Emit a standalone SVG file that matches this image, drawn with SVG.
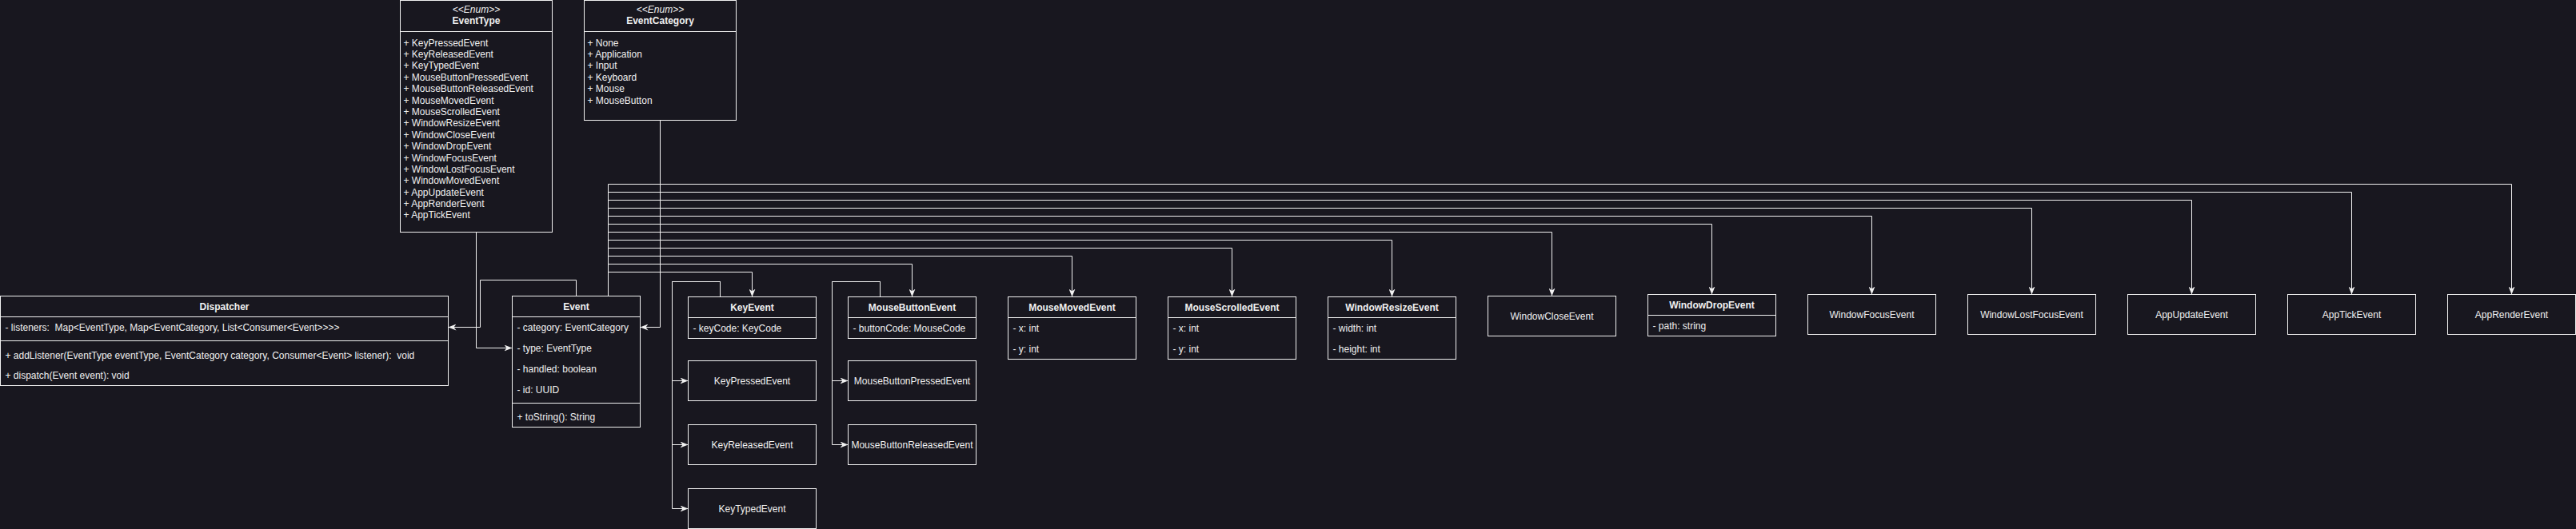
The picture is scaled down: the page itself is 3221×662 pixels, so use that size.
<svg xmlns="http://www.w3.org/2000/svg" width="3221" height="662" viewBox="0 0 3221 662">
<style>
.bg{fill:#18171f}
.box{fill:#18171f;stroke:#f0f0f0;stroke-width:1}
.ln{stroke:#f0f0f0;stroke-width:1}
.t{font-family:"Liberation Sans",Arial,Helvetica,sans-serif;font-size:12px;fill:#f0f0f0}
.b{font-weight:bold}
.i{font-style:italic}
.c{text-anchor:middle}
.e{fill:none;stroke:#f0f0f0;stroke-width:1;marker-end:url(#arr)}
</style>
<defs>
<marker id="arr" viewBox="0 0 10 8" refX="10" refY="4" markerWidth="10" markerHeight="8" markerUnits="userSpaceOnUse" orient="auto">
<path d="M0,0 L10,4 L0,8 L3,4 Z" fill="#f0f0f0"/>
</marker>
</defs>
<rect class="bg" x="0" y="0" width="3221" height="662"/>
<g transform="translate(0.5,0.5)">
<g id="connectors">
<path class="e" d="M595,290 V435 H640"/>
<path class="e" d="M825,150 V409 H800"/>
<path class="e" d="M720,370 V350 H600 V409 H560"/>
<path class="e" d="M760,370 V340 H940 V371"/>
<path class="e" d="M760,370 V330 H1140 V371"/>
<path class="e" d="M760,370 V320 H1340 V371"/>
<path class="e" d="M760,370 V310 H1540 V371"/>
<path class="e" d="M760,370 V300 H1740 V371"/>
<path class="e" d="M760,370 V290 H1940 V370"/>
<path class="e" d="M760,370 V280 H2140 V368"/>
<path class="e" d="M760,370 V270 H2340 V368"/>
<path class="e" d="M760,370 V260 H2540 V368"/>
<path class="e" d="M760,370 V250 H2740 V368"/>
<path class="e" d="M760,370 V240 H2940 V368"/>
<path class="e" d="M760,370 V230 H3140 V368"/>
<path class="e" d="M900,371 V352 H840 V476 H860"/>
<path class="e" d="M900,371 V352 H840 V556 H860"/>
<path class="e" d="M900,371 V352 H840 V636 H860"/>
<path class="e" d="M1100,371 V352 H1040 V476 H1060"/>
<path class="e" d="M1100,371 V352 H1040 V556 H1060"/>
</g>
<g id="EventType">
<rect class="box" x="500" y="0" width="190" height="290"/>
<line class="ln" x1="500" y1="39" x2="690" y2="39"/>
<text class="t i c" x="595" y="15">&lt;&lt;Enum&gt;&gt;</text>
<text class="t b c" x="595" y="29">EventType</text>
<text class="t" x="504" y="57">
<tspan x="504" dy="0">+ KeyPressedEvent</tspan>
<tspan x="504" dy="14.4">+ KeyReleasedEvent</tspan>
<tspan x="504" dy="14.4">+ KeyTypedEvent</tspan>
<tspan x="504" dy="14.4">+ MouseButtonPressedEvent</tspan>
<tspan x="504" dy="14.4">+ MouseButtonReleasedEvent</tspan>
<tspan x="504" dy="14.4">+ MouseMovedEvent</tspan>
<tspan x="504" dy="14.4">+ MouseScrolledEvent</tspan>
<tspan x="504" dy="14.4">+ WindowResizeEvent</tspan>
<tspan x="504" dy="14.4">+ WindowCloseEvent</tspan>
<tspan x="504" dy="14.4">+ WindowDropEvent</tspan>
<tspan x="504" dy="14.4">+ WindowFocusEvent</tspan>
<tspan x="504" dy="14.4">+ WindowLostFocusEvent</tspan>
<tspan x="504" dy="14.4">+ WindowMovedEvent</tspan>
<tspan x="504" dy="14.4">+ AppUpdateEvent</tspan>
<tspan x="504" dy="14.4">+ AppRenderEvent</tspan>
<tspan x="504" dy="14.4">+ AppTickEvent</tspan>
</text>
</g>
<g id="EventCategory">
<rect class="box" x="730" y="0" width="190" height="150"/>
<line class="ln" x1="730" y1="39" x2="920" y2="39"/>
<text class="t i c" x="825" y="15">&lt;&lt;Enum&gt;&gt;</text>
<text class="t b c" x="825" y="29">EventCategory</text>
<text class="t" x="734" y="57">
<tspan x="734" dy="0">+ None</tspan>
<tspan x="734" dy="14.4">+ Application</tspan>
<tspan x="734" dy="14.4">+ Input</tspan>
<tspan x="734" dy="14.4">+ Keyboard</tspan>
<tspan x="734" dy="14.4">+ Mouse</tspan>
<tspan x="734" dy="14.4">+ MouseButton</tspan>
</text>
</g>
<g id="Dispatcher">
<rect class="box" x="0" y="370" width="560" height="112"/>
<line class="ln" x1="0" y1="396" x2="560" y2="396"/>
<line class="ln" x1="0" y1="426" x2="560" y2="426"/>
<text class="t b c" x="280" y="387">Dispatcher</text>
<text class="t" x="6" y="413" xml:space="preserve">- listeners:  Map&lt;EventType, Map&lt;EventCategory, List&lt;Consumer&lt;Event&gt;&gt;&gt;&gt;</text>
<text class="t" x="6" y="448" xml:space="preserve">+ addListener(EventType eventType, EventCategory category, Consumer&lt;Event&gt; listener):  void</text>
<text class="t" x="6" y="473">+ dispatch(Event event): void</text>
</g>
<g id="Event">
<rect class="box" x="640" y="370" width="160" height="164"/>
<line class="ln" x1="640" y1="396" x2="800" y2="396"/>
<line class="ln" x1="640" y1="504" x2="800" y2="504"/>
<text class="t b c" x="720" y="387">Event</text>
<text class="t" x="646" y="413">- category: EventCategory</text>
<text class="t" x="646" y="439">- type: EventType</text>
<text class="t" x="646" y="465">- handled: boolean</text>
<text class="t" x="646" y="491">- id: UUID</text>
<text class="t" x="646" y="525">+ toString(): String</text>
</g>
<g id="KeyEvent">
<rect class="box" x="860" y="371" width="160" height="52"/>
<line class="ln" x1="860" y1="397" x2="1020" y2="397"/>
<text class="t b c" x="940" y="388">KeyEvent</text>
<text class="t" x="866" y="414">- keyCode: KeyCode</text>
</g>
<g id="KeyPressedEvent">
<rect class="box" x="860" y="451" width="160" height="50"/>
<text class="t c" x="940" y="480">KeyPressedEvent</text>
</g>
<g id="KeyReleasedEvent">
<rect class="box" x="860" y="531" width="160" height="50"/>
<text class="t c" x="940" y="560">KeyReleasedEvent</text>
</g>
<g id="KeyTypedEvent">
<rect class="box" x="860" y="611" width="160" height="50"/>
<text class="t c" x="940" y="640">KeyTypedEvent</text>
</g>
<g id="MouseButtonEvent">
<rect class="box" x="1060" y="371" width="160" height="52"/>
<line class="ln" x1="1060" y1="397" x2="1220" y2="397"/>
<text class="t b c" x="1140" y="388">MouseButtonEvent</text>
<text class="t" x="1066" y="414">- buttonCode: MouseCode</text>
</g>
<g id="MouseButtonPressedEvent">
<rect class="box" x="1060" y="451" width="160" height="50"/>
<text class="t c" x="1140" y="480">MouseButtonPressedEvent</text>
</g>
<g id="MouseButtonReleasedEvent">
<rect class="box" x="1060" y="531" width="160" height="50"/>
<text class="t c" x="1140" y="560">MouseButtonReleasedEvent</text>
</g>
<g id="MouseMovedEvent">
<rect class="box" x="1260" y="371" width="160" height="78"/>
<line class="ln" x1="1260" y1="397" x2="1420" y2="397"/>
<text class="t b c" x="1340" y="388">MouseMovedEvent</text>
<text class="t" x="1266" y="414">- x: int</text>
<text class="t" x="1266" y="440">- y: int</text>
</g>
<g id="MouseScrolledEvent">
<rect class="box" x="1460" y="371" width="160" height="78"/>
<line class="ln" x1="1460" y1="397" x2="1620" y2="397"/>
<text class="t b c" x="1540" y="388">MouseScrolledEvent</text>
<text class="t" x="1466" y="414">- x: int</text>
<text class="t" x="1466" y="440">- y: int</text>
</g>
<g id="WindowResizeEvent">
<rect class="box" x="1660" y="371" width="160" height="78"/>
<line class="ln" x1="1660" y1="397" x2="1820" y2="397"/>
<text class="t b c" x="1740" y="388">WindowResizeEvent</text>
<text class="t" x="1666" y="414">- width: int</text>
<text class="t" x="1666" y="440">- height: int</text>
</g>
<g id="WindowCloseEvent">
<rect class="box" x="1860" y="370" width="160" height="50"/>
<text class="t c" x="1940" y="399">WindowCloseEvent</text>
</g>
<g id="WindowDropEvent">
<rect class="box" x="2060" y="368" width="160" height="52"/>
<line class="ln" x1="2060" y1="394" x2="2220" y2="394"/>
<text class="t b c" x="2140" y="385">WindowDropEvent</text>
<text class="t" x="2066" y="411">- path: string</text>
</g>
<g id="WindowFocusEvent">
<rect class="box" x="2260" y="368" width="160" height="50"/>
<text class="t c" x="2340" y="397">WindowFocusEvent</text>
</g>
<g id="WindowLostFocusEvent">
<rect class="box" x="2460" y="368" width="160" height="50"/>
<text class="t c" x="2540" y="397">WindowLostFocusEvent</text>
</g>
<g id="AppUpdateEvent">
<rect class="box" x="2660" y="368" width="160" height="50"/>
<text class="t c" x="2740" y="397">AppUpdateEvent</text>
</g>
<g id="AppTickEvent">
<rect class="box" x="2860" y="368" width="160" height="50"/>
<text class="t c" x="2940" y="397">AppTickEvent</text>
</g>
<g id="AppRenderEvent">
<rect class="box" x="3060" y="368" width="160" height="50"/>
<text class="t c" x="3140" y="397">AppRenderEvent</text>
</g>
</g>
</svg>
